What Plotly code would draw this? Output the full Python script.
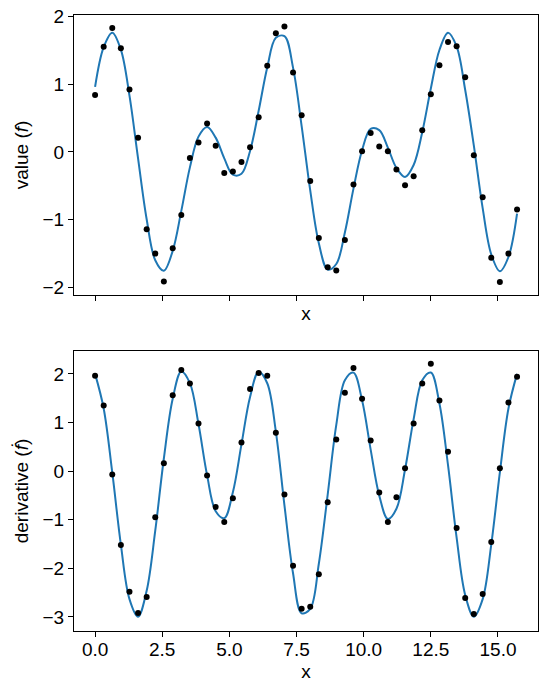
import plotly.graph_objects as go
from plotly.subplots import make_subplots

# sample positions (50 points from 0 to 5*pi)
x = [0.00, 0.32, 0.64, 0.96, 1.28, 1.60, 1.92, 2.24, 2.56, 2.89,
     3.21, 3.53, 3.85, 4.17, 4.49, 4.81, 5.13, 5.45, 5.77, 6.09,
     6.41, 6.73, 7.05, 7.37, 7.69, 8.01, 8.33, 8.66, 8.98, 9.30,
     9.62, 9.94, 10.26, 10.58, 10.90, 11.22, 11.54, 11.86, 12.18, 12.50,
     12.82, 13.14, 13.46, 13.78, 14.10, 14.43, 14.75, 15.07, 15.39, 15.71]

# noisy measurements (black dots)
value_pts = [0.84, 1.55, 1.83, 1.53, 0.92, 0.21, -1.14, -1.50, -1.91, -1.42,
             -0.93, -0.09, 0.14, 0.42, 0.09, -0.31, -0.29, -0.15, 0.07, 0.51,
             1.27, 1.75, 1.85, 1.17, 0.54, -0.43, -1.27, -1.70, -1.75, -1.30,
             -0.48, 0.01, 0.28, 0.08, 0.01, -0.26, -0.49, -0.36, 0.32, 0.85,
             1.28, 1.62, 1.56, 1.10, -0.05, -0.67, -1.56, -1.92, -1.50, -0.85]

deriv_pts = [1.96, 1.35, -0.07, -1.52, -2.48, -2.92, -2.59, -0.95, 0.16, 1.56,
             2.08, 1.80, 0.98, -0.09, -0.74, -1.05, -0.56, 0.59, 1.69, 2.02,
             1.96, 0.79, -0.48, -1.95, -2.83, -2.79, -2.12, -0.64, 0.65, 1.61,
             2.12, 1.49, 0.63, -0.44, -1.05, -0.54, 0.06, 0.98, 1.80, 2.21,
             1.45, 0.40, -1.17, -2.61, -2.94, -2.53, -1.46, 0.06, 1.41, 1.94]

# smooth estimates (blue lines)
value_fit = [0.96, 1.547, 1.760, 1.510, 0.830, -0.096, -0.993, -1.598, -1.753, -1.459,
             -0.870, -0.228, 0.226, 0.368, 0.211, -0.095, -0.335, -0.323, 0.015, 0.607,
             1.246, 1.683, 1.708, 1.244, 0.382, -0.567, -1.347, -1.735, -1.653, -1.187,
             -0.541, 0.025, 0.339, 0.321, 0.064, -0.237, -0.369, -0.193, 0.290, 0.935,
             1.504, 1.759, 1.557, 0.913, 0.096, -0.830, -1.511, -1.760, -1.550, -0.91]

deriv_fit = [2.0, 1.288, -0.029, -1.513, -2.634, -2.995, -2.462, -1.227, 0.259, 1.488,
             2.048, 1.808, 0.968, -0.084, -0.827, -0.968, -0.436, 0.550, 1.526, 2.045,
             1.807, 0.813, -0.704, -2.101, -2.926, -2.835, -1.906, -0.483, 0.949, 1.867,
             2.025, 1.456, 0.442, -0.505, -0.986, -0.775, 0.032, 1.069, 1.868, 2.028,
             1.391, 0.121, -1.370, -2.552, -2.995, -2.635, -1.511, -0.028, 1.287, 2.0]

x_ticks = [0, 2.5, 5, 7.5, 10, 12.5, 15]
x_ticktext = ["0.0", "2.5", "5.0", "7.5", "10.0", "12.5", "15.0"]

blue = "#1f77b4"
font = dict(family="Liberation Sans, Arial, sans-serif", size=19, color="black")

fig = make_subplots(rows=2, cols=1)

fig.add_trace(go.Scatter(x=x, y=value_fit, mode="lines", line=dict(color=blue, width=2, shape="spline")), row=1, col=1)
fig.add_trace(go.Scatter(x=x, y=value_pts, mode="markers", marker=dict(color="black", size=6)), row=1, col=1)
fig.add_trace(go.Scatter(x=x, y=deriv_fit, mode="lines", line=dict(color=blue, width=2, shape="spline")), row=2, col=1)
fig.add_trace(go.Scatter(x=x, y=deriv_pts, mode="markers", marker=dict(color="black", size=6)), row=2, col=1)

axis_style = dict(showline=True, linecolor="black", linewidth=1, mirror=True,
                  ticks="outside", ticklen=5, tickwidth=1, tickcolor="black",
                  showgrid=False, zeroline=False, tickfont=font, automargin=False)

fig.update_xaxes(**axis_style, range=[-0.785, 16.49], tickvals=x_ticks, ticktext=x_ticktext,
                 title=dict(text="x", font=font), domain=[0, 1])
fig.update_xaxes(showticklabels=False, title_standoff=6, row=1, col=1)
fig.update_xaxes(ticklabelstandoff=-4, title_standoff=5, row=2, col=1)

fig.update_yaxes(**axis_style)
fig.update_yaxes(range=[-2.11, 2.02], tickvals=[-2, -1, 0, 1, 2], domain=[0.5455, 1],
                 title=dict(text="value (<i>f</i>)", font=font, standoff=8), row=1, col=1)
fig.update_yaxes(range=[-3.29, 2.47], tickvals=[-3, -2, -1, 0, 1, 2], domain=[0, 0.4545],
                 title=dict(text="derivative (<i>ḟ</i>)", font=font, standoff=8), row=2, col=1)

fig.update_layout(
    width=548, height=690,
    margin=dict(l=74, r=10, t=15, b=59),
    paper_bgcolor="white", plot_bgcolor="white",
    showlegend=False, font=font,
)

# drop the default page margin so the figure sits at the window's corner
fig.write_html("out.html", config={"displayModeBar": False},
               post_script="document.body.style.margin='0';")
